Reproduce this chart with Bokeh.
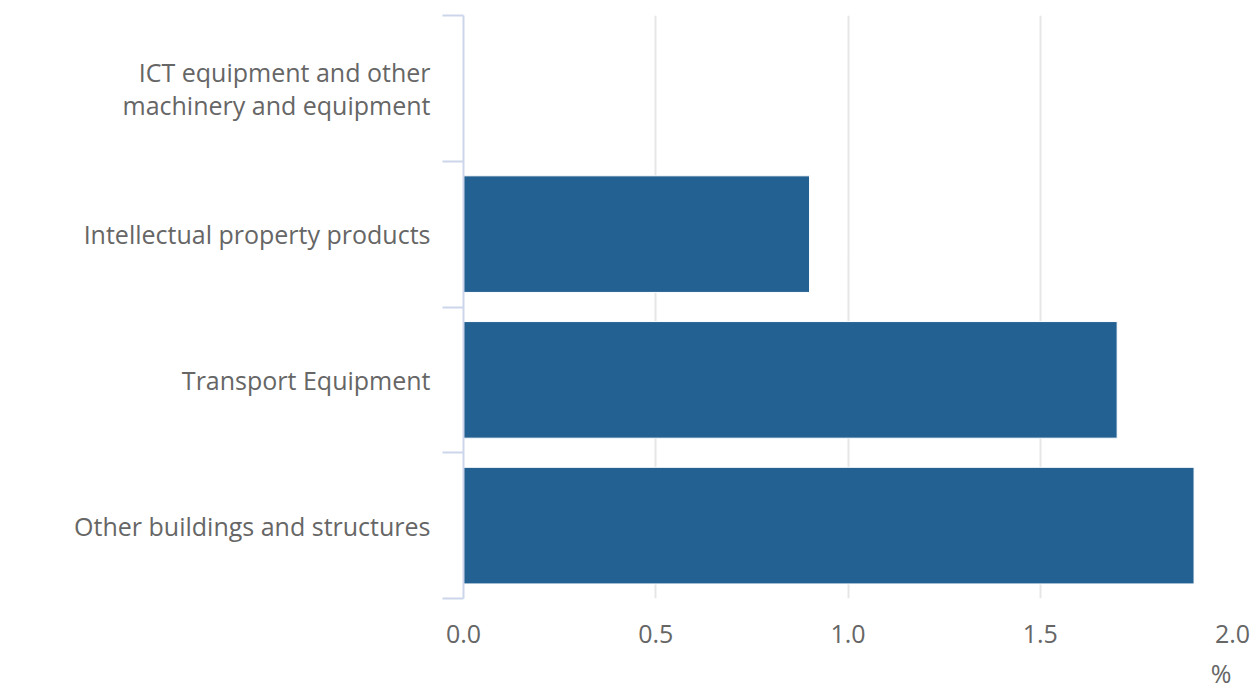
from bokeh.plotting import figure
from bokeh.models import FixedTicker, Range1d, ColumnDataSource, LinearAxis
from bokeh.embed import file_html
from bokeh.resources import INLINE

# Data (top to bottom as shown)
categories = [
    "ICT equipment and other\nmachinery and equipment",
    "Intellectual property products",
    "Transport Equipment",
    "Other buildings and structures",
]
values = [0.0, 0.9, 1.7, 1.9]
x_ticks = [0.0, 0.5, 1.0, 1.5, 2.0]
x_tick_labels = ["0.0", "0.5", "1.0", "1.5", "2.0"]
unit_label = "%"
unit_pos = 1.97

n = len(categories)
# numeric positions: first category at the top
ypos = [n - i - 0.5 for i in range(n)]

FONT = "Open Sans"
TXT = "#666666"
FS = "25px"

p = figure(width=1258, height=692, output_backend="svg", toolbar_location=None,
           x_range=Range1d(0, 2.0), y_range=Range1d(0, n),
           min_border_left=463, min_border_right=26, min_border_top=15, min_border_bottom=92)
p.outline_line_color = None

src = ColumnDataSource(dict(y=ypos, right=values))
p.hbar(y="y", left=0, right="right", height=0.8, source=src,
       fill_color="#236192", line_color="#ffffff", line_width=1)

# x axis
p.xaxis.ticker = FixedTicker(ticks=x_ticks)
p.xaxis.major_label_overrides = {t: l for t, l in zip(x_ticks, x_tick_labels)}
p.xaxis.axis_line_color = None
p.xaxis.major_tick_line_color = None
p.xaxis.minor_tick_line_color = None
p.xaxis.major_label_standoff = 20
p.xaxis.major_label_text_font = FONT
p.xaxis.major_label_text_font_size = FS
p.xaxis.major_label_text_color = TXT
p.xgrid.grid_line_color = "#e6e6e6"
p.xgrid.grid_line_width = 2
p.ygrid.grid_line_color = None

# unit label as a second axis below
ux = LinearAxis(ticker=FixedTicker(ticks=[unit_pos]),
                major_label_overrides={unit_pos: unit_label})
ux.axis_line_color = None
ux.major_tick_line_color = None
ux.minor_tick_line_color = None
ux.major_label_standoff = 4
ux.major_label_text_font = FONT
ux.major_label_text_font_size = FS
ux.major_label_text_color = TXT
p.add_layout(ux, "below")

# y axis: tick marks at category boundaries (minor), labels at centers (major)
p.yaxis.ticker = FixedTicker(ticks=ypos, minor_ticks=list(range(n + 1)))
p.yaxis.major_label_overrides = {y: c for y, c in zip(ypos, categories)}
p.yaxis.axis_line_color = "#ccd6eb"
p.yaxis.axis_line_width = 2
p.yaxis.major_tick_line_color = None
p.yaxis.minor_tick_line_color = "#ccd6eb"
p.yaxis.minor_tick_line_width = 2
p.yaxis.minor_tick_out = 21
p.yaxis.minor_tick_in = 0
p.yaxis.major_tick_out = 21
p.yaxis.major_tick_in = 0
p.yaxis.major_label_standoff = 12
p.yaxis.major_label_text_font = FONT
p.yaxis.major_label_text_font_size = FS
p.yaxis.major_label_text_color = TXT
p.yaxis.major_label_text_line_height = 0.97

open("out.html", "w").write(file_html(p, INLINE))
